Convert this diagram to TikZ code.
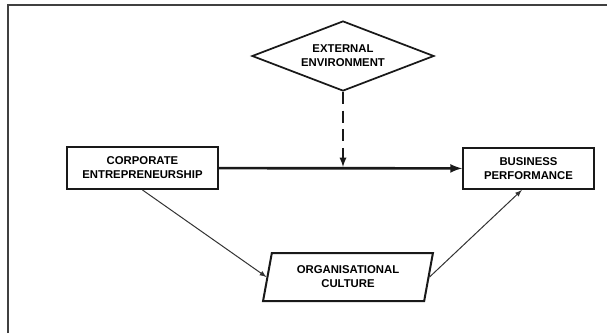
\documentclass[tikz,border=0pt]{standalone}
\usepackage{fontspec}
\setmainfont{Liberation Sans}
\usetikzlibrary{shapes.geometric,arrows}

\begin{document}
\begin{tikzpicture}[x=0.75pt,y=-0.75pt]
	\tikzstyle{Box} = [rectangle, draw=black!90, line width=1.5pt, align=center, inner sep=0pt, font=\fontsize{8.5}{10.5}\selectfont\bfseries, text=black]
	\tikzstyle{Env} = [Box, diamond, aspect=2.6, line width=1.3pt]
	\tikzstyle{Culture} = [Box, trapezium, trapezium left angle=75, trapezium right angle=105, trapezium stretches=true]
	\tikzstyle{arrow} = [draw=black!80, line width=0.75pt, ->, >=latex]
	\tikzstyle{mainarrow} = [draw=black!90, line width=2pt, ->, >=latex]
	
	\useasboundingbox (0,0) rectangle (607,333);
	\draw [line width=1.5pt, black!75] (8,333) -- (8,5) -- (607,5);
	
	\node (ee) [Env, minimum width=136.5pt, minimum height=52.5pt] at (343,56) {EXTERNAL\\ENVIRONMENT};
	\node (ce) [Box, minimum width=113.25pt, minimum height=31.5pt] at (142.5,168) {CORPORATE\\ENTREPRENEURSHIP};
	\node (bp) [Box, minimum width=98.25pt, minimum height=30.75pt] at (528.5,168.5) {BUSINESS\\PERFORMANCE};
	\node (oc) [Culture, minimum width=128.25pt, minimum height=36pt] at (348,277) {ORGANISATIONAL\\CULTURE};
	\coordinate (m) at (343,167);
	
	\draw [mainarrow] (ce) -- (bp);
	\draw [draw=black!90, line width=1.4pt, dash pattern=on 9pt off 5pt, ->, >=latex] (ee) -- (m);
	\draw [arrow] (ce.south) -- (oc.west);
	\draw [arrow] (oc.east) -- ([xshift=-5pt]bp.south);
\end{tikzpicture}
\end{document}
